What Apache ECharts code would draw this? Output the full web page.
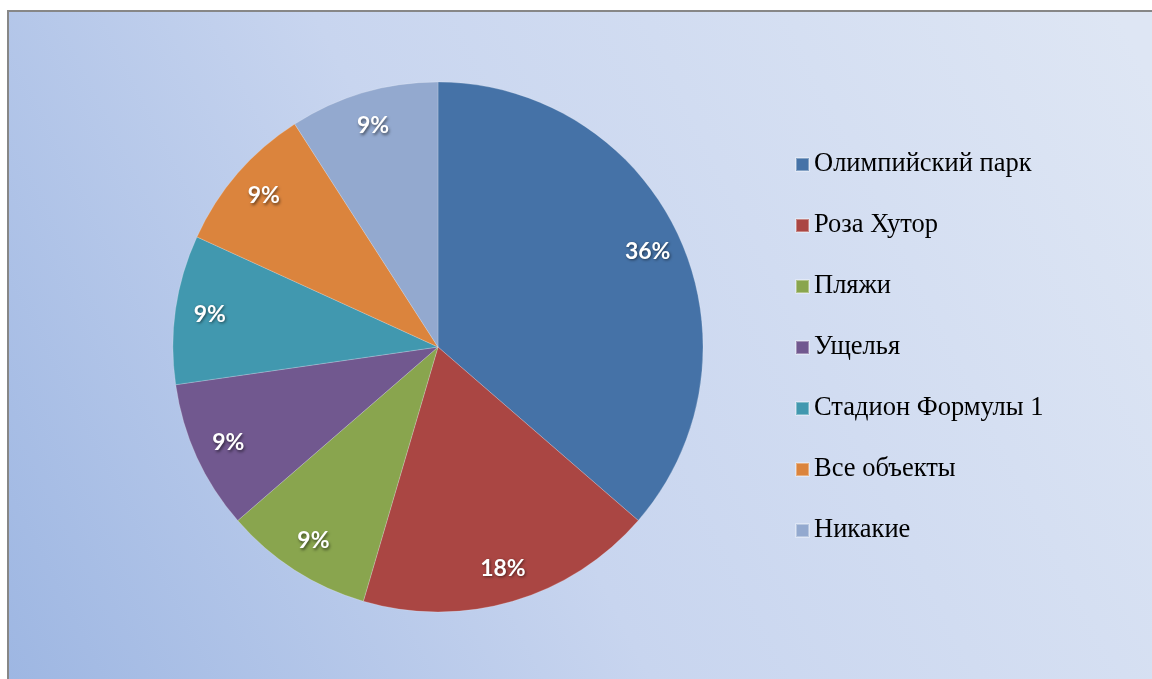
<!DOCTYPE html>
<html><head><meta charset="utf-8">
<script src="https://cdn.jsdelivr.net/npm/echarts@6/dist/echarts.min.js"></script>
<style>html,body{margin:0;padding:0;background:#fff;}#c{width:1152px;height:679px;}</style>
</head><body><div id="c"></div>
<script>
const categories = ['Олимпийский парк','Роза Хутор','Пляжи','Ущелья','Стадион Формулы 1','Все объекты','Никакие'];
const values = [4, 2, 1, 1, 1, 1, 1];
const colors = ['#4572a7','#aa4643','#89a54e','#71588f','#4198af','#db843d','#93a9cf'];

const data = categories.map((n, i) => ({name: n, value: values[i], itemStyle: {color: colors[i]}}));
const total = values.reduce((a, b) => a + b, 0);

const chart = echarts.init(document.getElementById('c'));
chart.setOption({
  animation: false,
  graphic: [{
    type: 'rect', z: -10,
    shape: {x: 8, y: 11, width: 1160, height: 690},
    style: {
      fill: new echarts.graphic.LinearGradient(0, 1, 1, 0.15, [
        {offset: 0, color: '#9db6e2'},
        {offset: 0.45, color: '#c8d5ef'},
        {offset: 1, color: '#dee6f4'}
      ]),
      stroke: '#878787', lineWidth: 2
    }
  }],
  legend: {
    orient: 'vertical', left: 795, top: 151, padding: 0,
    itemWidth: 13, itemHeight: 13, itemGap: 34, itemTextGap: 7,
    icon: 'rect',
    data: categories,
    textStyle: {fontFamily: '"Liberation Serif", "DejaVu Serif", serif', fontSize: 26.5, color: '#000', lineHeight: 26}
  },
  series: [{
    type: 'pie', center: [438, 347], radius: [0, 265],
    startAngle: 90, clockwise: true, silent: true,
    label: {show: false}, labelLine: {show: false},
    itemStyle: {borderColor: 'rgba(255,255,255,0.35)', borderWidth: 0.6},
    data: data
  }, {
    type: 'pie', center: [438, 347], radius: [190, 265],
    startAngle: 90, clockwise: true, silent: true,
    itemStyle: {color: 'rgba(0,0,0,0)'},
    labelLine: {show: false},
    label: {
      show: true, position: 'inside',
      formatter: p => Math.round(p.value / total * 100) + '%',
      fontFamily: 'Lato, "Open Sans", sans-serif', fontWeight: 'bold', fontSize: 23, color: '#fff',
      textShadowColor: 'rgba(0,0,0,0.55)', textShadowBlur: 3, textShadowOffsetX: 1, textShadowOffsetY: 1.5
    },
    data: categories.map((n, i) => ({name: n, value: values[i]}))
  }]
});
</script></body></html>
